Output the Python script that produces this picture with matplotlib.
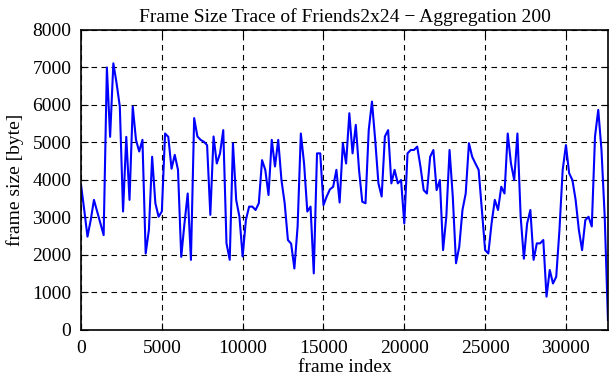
import matplotlib
matplotlib.use("Agg")
import matplotlib.pyplot as plt
import numpy as np

# frame index of each aggregated sample (every 200 frames)
frame_index = np.arange(0, 32601, 200)

# frame size in bytes
frame_size = [
    3870, 3200, 2490, 2930, 3470, 3160, 2840, 2530, 7000, 5150,
    7110, 6580, 5960, 3160, 5150, 3470, 5960, 5070, 4760, 5070,
    2040, 2670, 4620, 3380, 3020, 3160, 5240, 5150, 4300, 4670,
    4270, 1950, 2840, 3640, 1870, 5650, 5160, 5070, 5020, 4930,
    3070, 5160, 4440, 4710, 5330, 2310, 1870, 4980, 3470, 3020,
    1960, 2930, 3290, 3290, 3200, 3380, 4530, 4270, 3600, 5070,
    4360, 5070, 4000, 3380, 2400, 2300, 1640, 2760, 5240, 4440,
    3160, 3290, 1510, 4710, 4710, 3330, 3560, 3750, 3820, 4270,
    3400, 4980, 4440, 5780, 4710, 5470, 4270, 3420, 3380, 5330,
    6090, 5070, 3910, 3560, 5160, 5330, 3910, 4270, 3910, 4000,
    2840, 4710, 4800, 4800, 4890, 4360, 3730, 3640, 4620, 4800,
    3730, 4000, 2130, 3020, 4800, 3560, 1780, 2220, 3200, 3640,
    4980, 4620, 4440, 4270, 3200, 2130, 2040, 2840, 3470, 3200,
    3820, 3640, 5240, 4440, 4000, 5240, 3020, 1900, 2840, 3200,
    1870, 2310, 2310, 2400, 890, 1600, 1240, 1420, 2670, 4270,
    4930, 4180, 4000, 3470, 2670, 2130, 2930, 3020, 2760, 5160,
    5870, 4800, 3020, 270,
]

x_ticks = [0, 5000, 10000, 15000, 20000, 25000, 30000]
y_ticks = [0, 1000, 2000, 3000, 4000, 5000, 6000, 7000, 8000]

plt.rcParams['font.family'] = ['Liberation Serif', 'DejaVu Serif']
plt.rcParams['font.size'] = 14

fig = plt.figure(figsize=(6.11, 3.80), dpi=100)
ax = fig.add_axes([0.1326, 0.1316, 0.8624, 0.7895])

ax.plot(frame_index, frame_size, color='#0000ff', lw=1.5)

ax.set_xlim(0, 32600)
ax.set_ylim(0, 8000)
ax.set_xticks(x_ticks)
ax.set_yticks(y_ticks)
ax.grid(True, color='black', linestyle=(0, (5, 4)), lw=0.8)
ax.tick_params(direction='in', length=5, width=0.8, top=True, right=True, pad=7)
for s in ax.spines.values():
    s.set_linewidth(1.2)

ax.set_title('Frame Size Trace of Friends2x24 \u2212 Aggregation 200', fontsize=14, pad=6)
ax.set_xlabel('frame index', labelpad=2)
ax.set_ylabel('frame size [byte]', labelpad=6)

fig.savefig('out.png', dpi=100)
